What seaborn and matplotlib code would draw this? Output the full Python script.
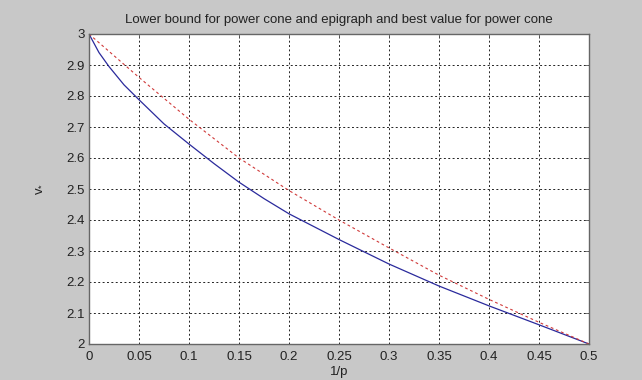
import pandas as pd
import matplotlib
matplotlib.use("Agg")
import matplotlib.pyplot as plt
import seaborn as sns

# values
inv_p_lower = [0.0, 0.01, 0.02, 0.035, 0.05, 0.075, 0.1, 0.125, 0.15, 0.175,
               0.2, 0.25, 0.3, 0.35, 0.4, 0.45, 0.5]
v_lower = [3.0, 2.94, 2.895, 2.836, 2.788, 2.71, 2.645, 2.582, 2.522, 2.469,
           2.42, 2.337, 2.258, 2.187, 2.123, 2.062, 2.0]

inv_p_best = [0.0, 0.05, 0.1, 0.15, 0.2, 0.25, 0.3, 0.35, 0.4, 0.45, 0.5]
v_best = [3.0, 2.86, 2.725, 2.60, 2.495, 2.40, 2.31, 2.222, 2.144, 2.07, 2.0]

x_ticks = [0, 0.05, 0.1, 0.15, 0.2, 0.25, 0.3, 0.35, 0.4, 0.45, 0.5]
x_tick_labels = ["0", "0.05", "0.1", "0.15", "0.2", "0.25", "0.3", "0.35", "0.4", "0.45", "0.5"]
y_ticks = [2, 2.1, 2.2, 2.3, 2.4, 2.5, 2.6, 2.7, 2.8, 2.9, 3]
y_tick_labels = ["2", "2.1", "2.2", "2.3", "2.4", "2.5", "2.6", "2.7", "2.8", "2.9", "3"]

sns.set_style("white")
plt.rcParams["font.family"] = ["Liberation Sans", "DejaVu Sans"]
plt.rcParams["mathtext.default"] = "regular"

lower = pd.DataFrame({"x": inv_p_lower, "v": v_lower})
best = pd.DataFrame({"x": inv_p_best, "v": v_best})

fig = plt.figure(figsize=(6.42, 3.8), dpi=100)
fig.patch.set_facecolor("#c8c8c8")
ax = fig.add_axes([89 / 642, 36 / 380, 500 / 642, 310 / 380])
ax.set_facecolor("white")

sns.lineplot(data=lower, x="x", y="v", ax=ax, color="#2a2a9c", linewidth=0.9)
sns.lineplot(data=best, x="x", y="v", ax=ax, color="#d03a3a", linewidth=0.8,
             linestyle=(0, (2.5, 2.5)))

ax.set_xlim(0, 0.5)
ax.set_ylim(2, 3)
ax.set_xticks(x_ticks)
ax.set_xticklabels(x_tick_labels)
ax.set_yticks(y_ticks)
ax.set_yticklabels(y_tick_labels)
ax.grid(True, color="#222222", linestyle=(0, (2, 2.5)), linewidth=0.7)
ax.tick_params(direction="in", length=3, width=0.6, colors="#555555",
               labelcolor="#222222", labelsize=9.5, top=True, right=True, pad=3)
ax.tick_params(axis="x", pad=5)
for s in ax.spines.values():
    s.set_color("#666666")
    s.set_linewidth(1.0)

ax.set_title("Lower bound for power cone and epigraph and best value for power cone",
             fontsize=9.5, color="#222222", pad=8)
ax.set_xlabel("1/p", fontsize=9.5, color="#222222", labelpad=2)
ax.set_ylabel("v$_{*}$", fontsize=9.5, color="#222222", labelpad=16)

fig.savefig("out.png", dpi=100, facecolor=fig.get_facecolor())
